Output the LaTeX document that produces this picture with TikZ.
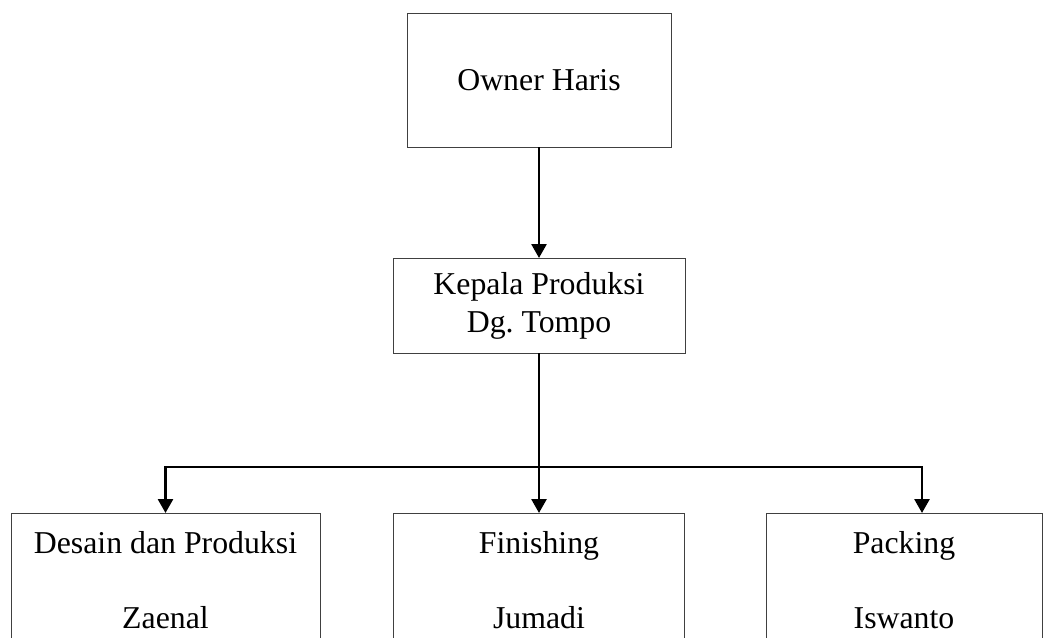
\documentclass[tikz,border=0pt]{standalone}
\usepackage{fontspec}
\setmainfont{Liberation Serif}
\usepackage{tikz}
\usetikzlibrary{arrows.meta}
\tikzstyle{Box}=[rectangle, draw=black!75, line width=0.5pt, inner sep=0pt, outer sep=0pt, align=center, font=\fontsize{15.9}{19}\selectfont]
\tikzstyle{Staff}=[Box, minimum height=67pt, font=\fontsize{15.9}{37.5}\selectfont]
\tikzstyle{Link}=[line width=1.35pt, -{Triangle[width=7.5pt, length=7pt]}]

\begin{document}
\begin{tikzpicture}[x=0.5pt, y=-0.5pt]
    \clip (0,0) rectangle (1046,638);
    \path
    (539,80) node[Box, minimum width=132pt, minimum height=67pt] (owner) {Owner Haris}
    (539,305.5) node[Box, minimum width=146pt, minimum height=47.5pt] (kepala) {Kepala Produksi\\Dg.\ Tompo}
    (165.5,580) node[Staff, minimum width=154.5pt] (desain) {Desain dan Produksi\\Zaenal}
    (539,580) node[Staff, minimum width=145.5pt] (finishing) {Finishing\\Jumadi}
    (904,580) node[Staff, minimum width=138pt] (packing) {Packing\\Iswanto};

    \coordinate (busR) at (922,467);

    \draw[Link] (owner) -- (kepala);
    \draw[Link] (kepala) -- (finishing);
    \draw[Link, {Triangle[width=7.5pt, length=7pt]}-{Triangle[width=7.5pt, length=7pt]}] (desain.north) |- (busR) -- (busR |- packing.north);
\end{tikzpicture}
\end{document}
